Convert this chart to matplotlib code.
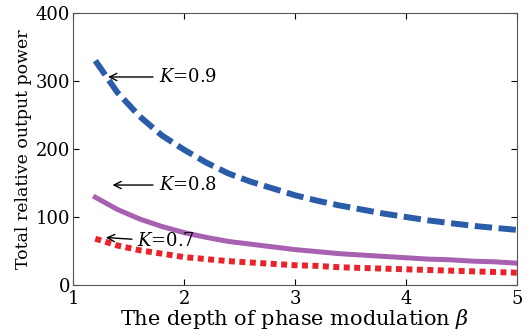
import matplotlib
matplotlib.use("Agg")
import matplotlib.pyplot as plt

plt.rcParams['font.family'] = ['DejaVu Serif']
plt.rcParams['mathtext.fontset'] = 'dejavuserif'

# modulation depth beta
beta = [1.2, 1.4, 1.6, 1.8, 2.0, 2.2, 2.4, 2.6, 2.8, 3.0, 3.2, 3.4, 3.6, 3.8,
        4.0, 4.2, 4.4, 4.6, 4.8, 5.0]

# total relative output power for each K
power_k09 = [330, 283, 248, 220, 199, 180, 164, 152, 142, 132, 124, 117, 111, 105,
             100, 95, 91, 87, 84, 81]
power_k08 = [129, 111, 97, 86, 77, 70, 64, 60, 56, 52, 49, 46, 44, 42,
             40, 38, 37, 35, 34, 32]
power_k07 = [68, 58, 51, 46, 41, 38, 35, 33, 31, 29, 28, 26, 25, 24,
             23, 22, 21, 20, 19, 18]

fig = plt.figure(figsize=(5.3, 3.36), dpi=100)
ax = fig.add_axes([0.138, 0.152, 0.837, 0.809])

ax.plot(beta, power_k09, color='#2a5caa', lw=4.3, dashes=(2.9, 1.1))
ax.plot(beta, power_k08, color='#a860b0', lw=3.6)
ax.plot(beta, power_k07, color='#e8232a', lw=4.3, dashes=(1.0, 0.75))

arrow = dict(arrowstyle='->', color='black', lw=1)
ax.annotate('$K$=0.9', xy=(1.29, 306), xytext=(1.77, 306), va='center',
            fontsize=13, arrowprops=arrow)
ax.annotate('$K$=0.8', xy=(1.33, 147), xytext=(1.77, 147), va='center',
            fontsize=13, arrowprops=arrow)
ax.annotate('$K$=0.7', xy=(1.27, 70), xytext=(1.58, 64), va='center',
            fontsize=13, arrowprops=arrow)

ax.set_xlim(1, 5)
ax.set_ylim(0, 400)
ax.set_xticks([1, 2, 3, 4, 5])
ax.set_yticks([0, 100, 200, 300, 400])
ax.tick_params(direction='in', top=True, right=True, labelsize=13, length=4)
ax.tick_params(axis='x', pad=4)
ax.tick_params(axis='y', pad=2)
for s in ax.spines.values():
    s.set_color('#555555')

ax.set_xlabel(r'The depth of phase modulation $\beta$', fontsize=15, labelpad=-1)
ax.set_ylabel('Total relative output power', fontsize=12.5, labelpad=3)

fig.savefig('out.png', dpi=100)
